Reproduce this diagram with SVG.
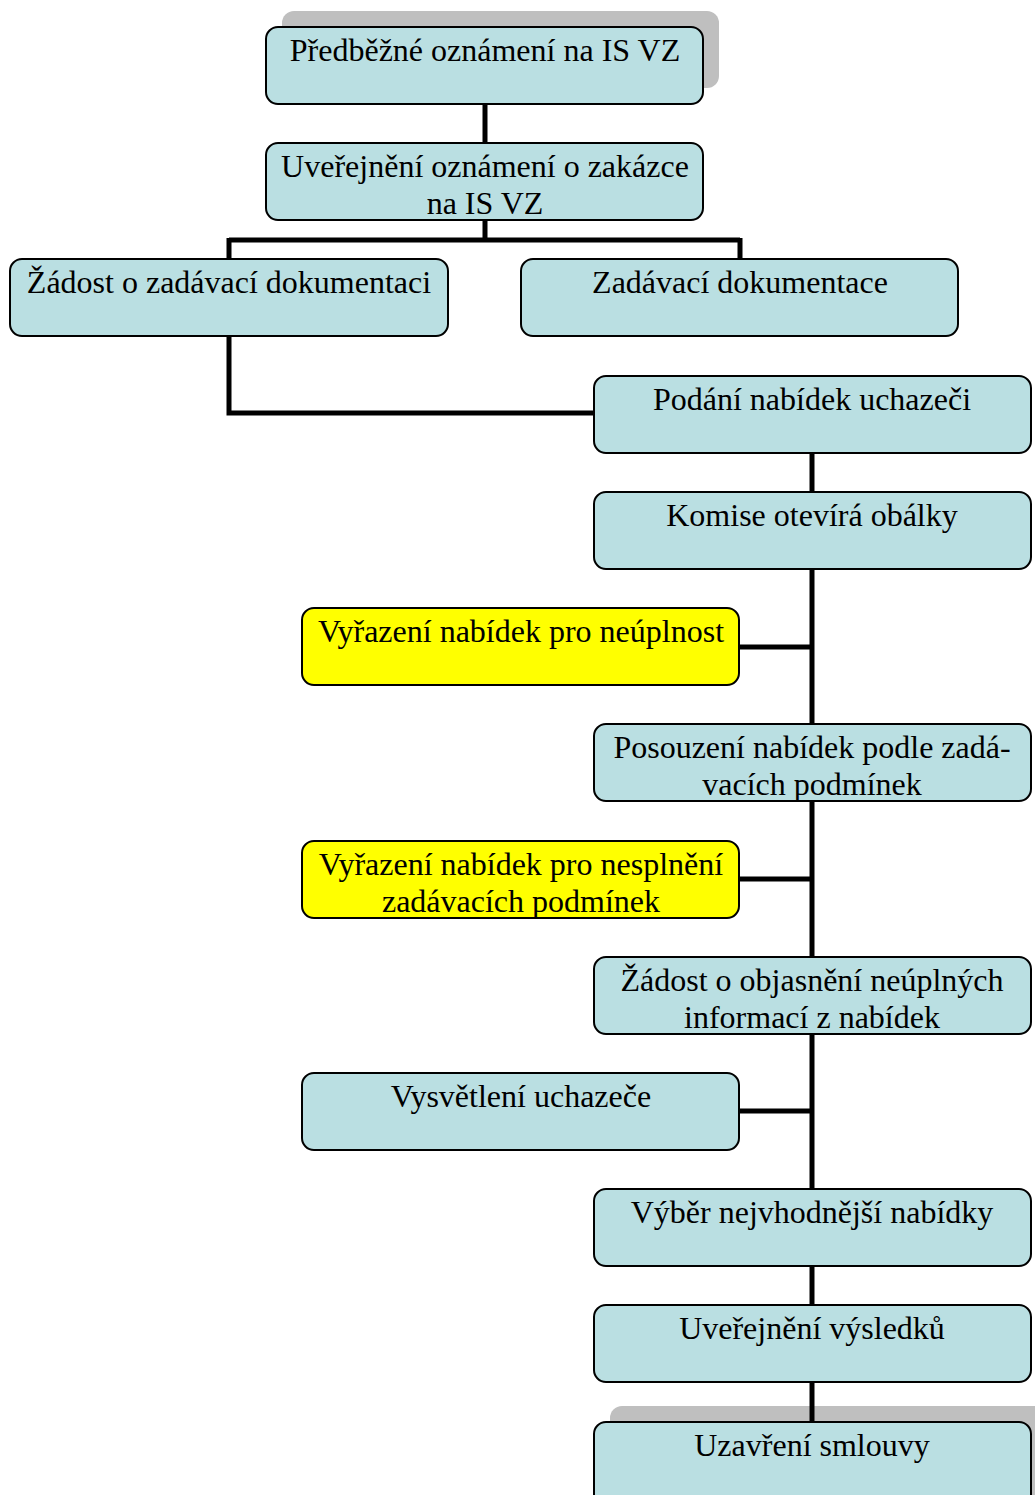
<svg xmlns="http://www.w3.org/2000/svg" width="1035" height="1495" viewBox="0 0 1035 1495">
<style>
.n{fill:#badfe2;stroke:#000;stroke-width:2}
.y{fill:#ffff00;stroke:#000;stroke-width:2}
.sh{fill:#bfbfbf}
.t{font-family:"Liberation Serif","Times New Roman",serif;font-size:32px;fill:#000;text-anchor:middle}
.c{fill:none;stroke:#000;stroke-width:5}
</style>
<rect width="1035" height="1495" fill="#fff"/>
<rect class="sh" x="282" y="11" width="437" height="77" rx="12"/>
<rect class="sh" x="610" y="1406" width="440" height="100" rx="12"/>
<g id="connectors">
<path class="c" d="M485 104V143"/>
<path class="c" d="M485 220V240M229 240H740M229 238V259M740 238V259"/>
<path class="c" d="M229 336V413H594"/>
<path class="c" d="M812 453V492"/>
<path class="c" d="M812 569V724M739 647H812"/>
<path class="c" d="M812 801V957M739 879H812"/>
<path class="c" d="M812 1034V1189M739 1111H812"/>
<path class="c" d="M812 1266V1305"/>
<path class="c" d="M812 1382V1422"/>
</g>
<g id="n1"><rect class="n" x="266" y="27" width="437" height="77" rx="12"/><text class="t" x="485" y="61">Předběžné oznámení na IS VZ</text></g>
<g id="n2"><rect class="n" x="266" y="143" width="437" height="77" rx="12"/><text class="t" x="485" y="177">Uveřejnění oznámení o zakázce</text><text class="t" x="485" y="214">na IS VZ</text></g>
<g id="n3"><rect class="n" x="10" y="259" width="438" height="77" rx="12"/><text class="t" x="229" y="293">Žádost o zadávací dokumentaci</text></g>
<g id="n4"><rect class="n" x="521" y="259" width="437" height="77" rx="12"/><text class="t" x="740" y="293">Zadávací dokumentace</text></g>
<g id="n5"><rect class="n" x="594" y="376" width="437" height="77" rx="12"/><text class="t" x="812" y="410">Podání nabídek uchazeči</text></g>
<g id="n6"><rect class="n" x="594" y="492" width="437" height="77" rx="12"/><text class="t" x="812" y="526">Komise otevírá obálky</text></g>
<g id="n7"><rect class="y" x="302" y="608" width="437" height="77" rx="12"/><text class="t" x="521" y="642">Vyřazení nabídek pro neúplnost</text></g>
<g id="n8"><rect class="n" x="594" y="724" width="437" height="77" rx="12"/><text class="t" x="812" y="758">Posouzení nabídek podle zadá-</text><text class="t" x="812" y="795">vacích podmínek</text></g>
<g id="n9"><rect class="y" x="302" y="841" width="437" height="77" rx="12"/><text class="t" x="521" y="875">Vyřazení nabídek pro nesplnění</text><text class="t" x="521" y="912">zadávacích podmínek</text></g>
<g id="n10"><rect class="n" x="594" y="957" width="437" height="77" rx="12"/><text class="t" x="812" y="991">Žádost o objasnění neúplných</text><text class="t" x="812" y="1028">informací z nabídek</text></g>
<g id="n11"><rect class="n" x="302" y="1073" width="437" height="77" rx="12"/><text class="t" x="521" y="1107">Vysvětlení uchazeče</text></g>
<g id="n12"><rect class="n" x="594" y="1189" width="437" height="77" rx="12"/><text class="t" x="812" y="1223">Výběr nejvhodnější nabídky</text></g>
<g id="n13"><rect class="n" x="594" y="1305" width="437" height="77" rx="12"/><text class="t" x="812" y="1339">Uveřejnění výsledků</text></g>
<g id="n14"><rect class="n" x="594" y="1422" width="437" height="90" rx="12"/><text class="t" x="812" y="1456">Uzavření smlouvy</text></g>
</svg>
